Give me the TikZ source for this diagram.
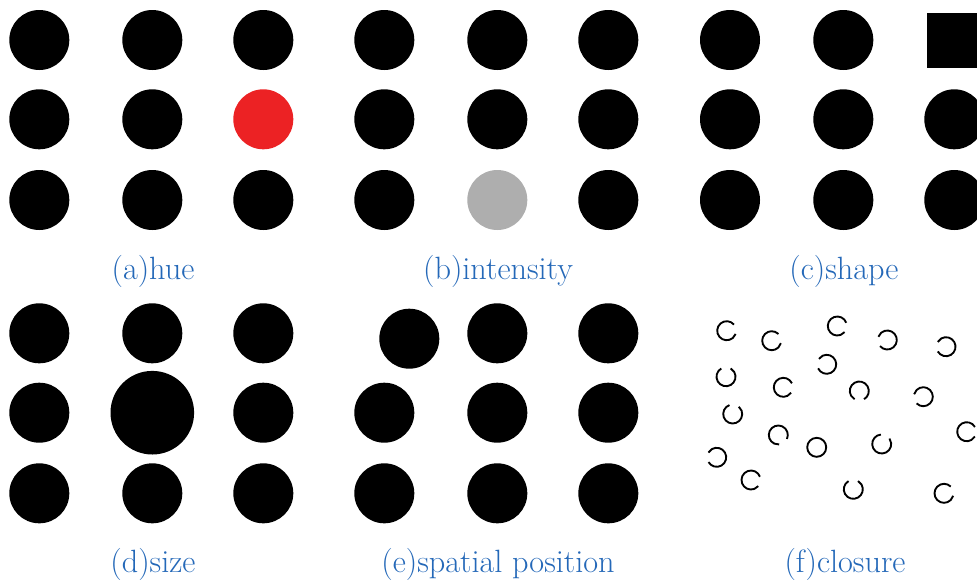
\documentclass[tikz,border=0pt]{standalone}
\usepackage{tikz}
\definecolor{gestaltblue}{RGB}{36,104,184}
\definecolor{gestaltred}{RGB}{236,34,36}
\definecolor{gestaltgray}{RGB}{174,174,174}
\tikzset{
  gestaltdot/.style={fill=black},
  gestaltring/.style={draw=black, line width=1.6pt},
  gestaltcaption/.style={text=gestaltblue, anchor=base, inner sep=0pt,
    font=\fontsize{27.5pt}{33pt}\selectfont},
}
\begin{document}
\begin{tikzpicture}[scale=3]
  \useasboundingbox (0,0) rectangle (9.77,-5.81);
  \clip (0,0) rectangle (9.77,-5.81);
  % (a) hue
  \fill[gestaltdot] (0.3930,-0.4000) circle (0.3000);
  \fill[gestaltdot] (1.5230,-0.4000) circle (0.3000);
  \fill[gestaltdot] (2.6330,-0.4000) circle (0.3000);
  \fill[gestaltdot] (0.3930,-1.1930) circle (0.3000);
  \fill[gestaltdot] (1.5230,-1.1930) circle (0.3000);
  \fill[gestaltred] (2.6330,-1.1930) circle (0.3000);
  \fill[gestaltdot] (0.3930,-2.0000) circle (0.3000);
  \fill[gestaltdot] (1.5230,-2.0000) circle (0.3000);
  \fill[gestaltdot] (2.6330,-2.0000) circle (0.3000);
  \node[gestaltcaption] (hue) at (1.5300,-2.7900) {(a)hue};
  % (b) intensity
  \fill[gestaltdot] (3.8430,-0.4000) circle (0.3000);
  \fill[gestaltdot] (4.9730,-0.4000) circle (0.3000);
  \fill[gestaltdot] (6.0830,-0.4000) circle (0.3000);
  \fill[gestaltdot] (3.8430,-1.1930) circle (0.3000);
  \fill[gestaltdot] (4.9730,-1.1930) circle (0.3000);
  \fill[gestaltdot] (6.0830,-1.1930) circle (0.3000);
  \fill[gestaltdot] (3.8430,-2.0000) circle (0.3000);
  \fill[gestaltgray] (4.9730,-2.0000) circle (0.3000);
  \fill[gestaltdot] (6.0830,-2.0000) circle (0.3000);
  \node[gestaltcaption] (intensity) at (4.9800,-2.7900) {(b)intensity};
  % (c) shape
  \fill[gestaltdot] (7.3000,-0.4000) circle (0.3000);
  \fill[gestaltdot] (8.4330,-0.4000) circle (0.3000);
  \fill[gestaltdot] (9.2730,-0.1330) rectangle (9.8230,-0.6830);
  \fill[gestaltdot] (7.3000,-1.1930) circle (0.3000);
  \fill[gestaltdot] (8.4330,-1.1930) circle (0.3000);
  \fill[gestaltdot] (9.5430,-1.1930) circle (0.3000);
  \fill[gestaltdot] (7.3000,-2.0000) circle (0.3000);
  \fill[gestaltdot] (8.4330,-2.0000) circle (0.3000);
  \fill[gestaltdot] (9.5430,-2.0000) circle (0.3000);
  \node[gestaltcaption] (shape) at (8.4400,-2.7900) {(c)shape};
  % (d) size
  \fill[gestaltdot] (0.3930,-3.3330) circle (0.3000);
  \fill[gestaltdot] (1.5230,-3.3330) circle (0.3000);
  \fill[gestaltdot] (2.6330,-3.3330) circle (0.3000);
  \fill[gestaltdot] (0.3930,-4.1270) circle (0.3000);
  \fill[gestaltdot] (1.5230,-4.1270) circle (0.4180);
  \fill[gestaltdot] (2.6330,-4.1270) circle (0.3000);
  \fill[gestaltdot] (0.3930,-4.9330) circle (0.3000);
  \fill[gestaltdot] (1.5230,-4.9330) circle (0.3000);
  \fill[gestaltdot] (2.6330,-4.9330) circle (0.3000);
  \node[gestaltcaption] (size) at (1.5300,-5.7200) {(d)size};
  % (e) spatial position
  \fill[gestaltdot] (4.0930,-3.3870) circle (0.3000);
  \fill[gestaltdot] (4.9730,-3.3330) circle (0.3000);
  \fill[gestaltdot] (6.0830,-3.3330) circle (0.3000);
  \fill[gestaltdot] (3.8430,-4.1270) circle (0.3000);
  \fill[gestaltdot] (4.9730,-4.1270) circle (0.3000);
  \fill[gestaltdot] (6.0830,-4.1270) circle (0.3000);
  \fill[gestaltdot] (3.8430,-4.9330) circle (0.3000);
  \fill[gestaltdot] (4.9730,-4.9330) circle (0.3000);
  \fill[gestaltdot] (6.0830,-4.9330) circle (0.3000);
  \node[gestaltcaption] (position) at (4.9800,-5.7200) {(e)spatial position};
  % (f) closure
  \draw[gestaltring] (7.2670,-3.3070) ++(40:0.0950) arc[start angle=40, end angle=340, radius=0.0950];
  \draw[gestaltring] (7.7170,-3.4070) ++(45:0.0950) arc[start angle=45, end angle=345, radius=0.0950];
  \draw[gestaltring] (8.3730,-3.2600) ++(20:0.0950) arc[start angle=20, end angle=320, radius=0.0950];
  \draw[gestaltring] (8.8730,-3.4000) ++(220:0.0950) arc[start angle=220, end angle=520, radius=0.0950];
  \draw[gestaltring] (9.4600,-3.4670) ++(210:0.0950) arc[start angle=210, end angle=510, radius=0.0950];
  \draw[gestaltring] (8.2670,-3.6430) ++(205:0.0950) arc[start angle=205, end angle=505, radius=0.0950];
  \draw[gestaltring] (7.2600,-3.7670) ++(120:0.0950) arc[start angle=120, end angle=420, radius=0.0950];
  \draw[gestaltring] (7.8330,-3.8730) ++(25:0.0950) arc[start angle=25, end angle=325, radius=0.0950];
  \draw[gestaltring] (8.5930,-3.9100) ++(-60:0.0950) arc[start angle=-60, end angle=240, radius=0.0950];
  \draw[gestaltring] (9.2330,-3.9670) ++(225:0.0950) arc[start angle=225, end angle=525, radius=0.0950];
  \draw[gestaltring] (7.3270,-4.1400) ++(110:0.0950) arc[start angle=110, end angle=410, radius=0.0950];
  \draw[gestaltring] (7.7830,-4.3500) ++(-25:0.0950) arc[start angle=-25, end angle=275, radius=0.0950];
  \draw[gestaltring] (8.1670,-4.4730) circle (0.0950);
  \draw[gestaltring] (8.8170,-4.4400) ++(95:0.0950) arc[start angle=95, end angle=395, radius=0.0950];
  \draw[gestaltring] (9.6670,-4.3170) ++(30:0.0950) arc[start angle=30, end angle=330, radius=0.0950];
  \draw[gestaltring] (7.1670,-4.5730) ++(210:0.0950) arc[start angle=210, end angle=510, radius=0.0950];
  \draw[gestaltring] (7.5100,-4.8000) ++(20:0.0950) arc[start angle=20, end angle=320, radius=0.0950];
  \draw[gestaltring] (8.5330,-4.8930) ++(120:0.0950) arc[start angle=120, end angle=420, radius=0.0950];
  \draw[gestaltring] (9.4400,-4.9330) ++(45:0.0950) arc[start angle=45, end angle=345, radius=0.0950];
  \node[gestaltcaption] (closure) at (8.4500,-5.7200) {(f)closure};
\end{tikzpicture}
\end{document}
